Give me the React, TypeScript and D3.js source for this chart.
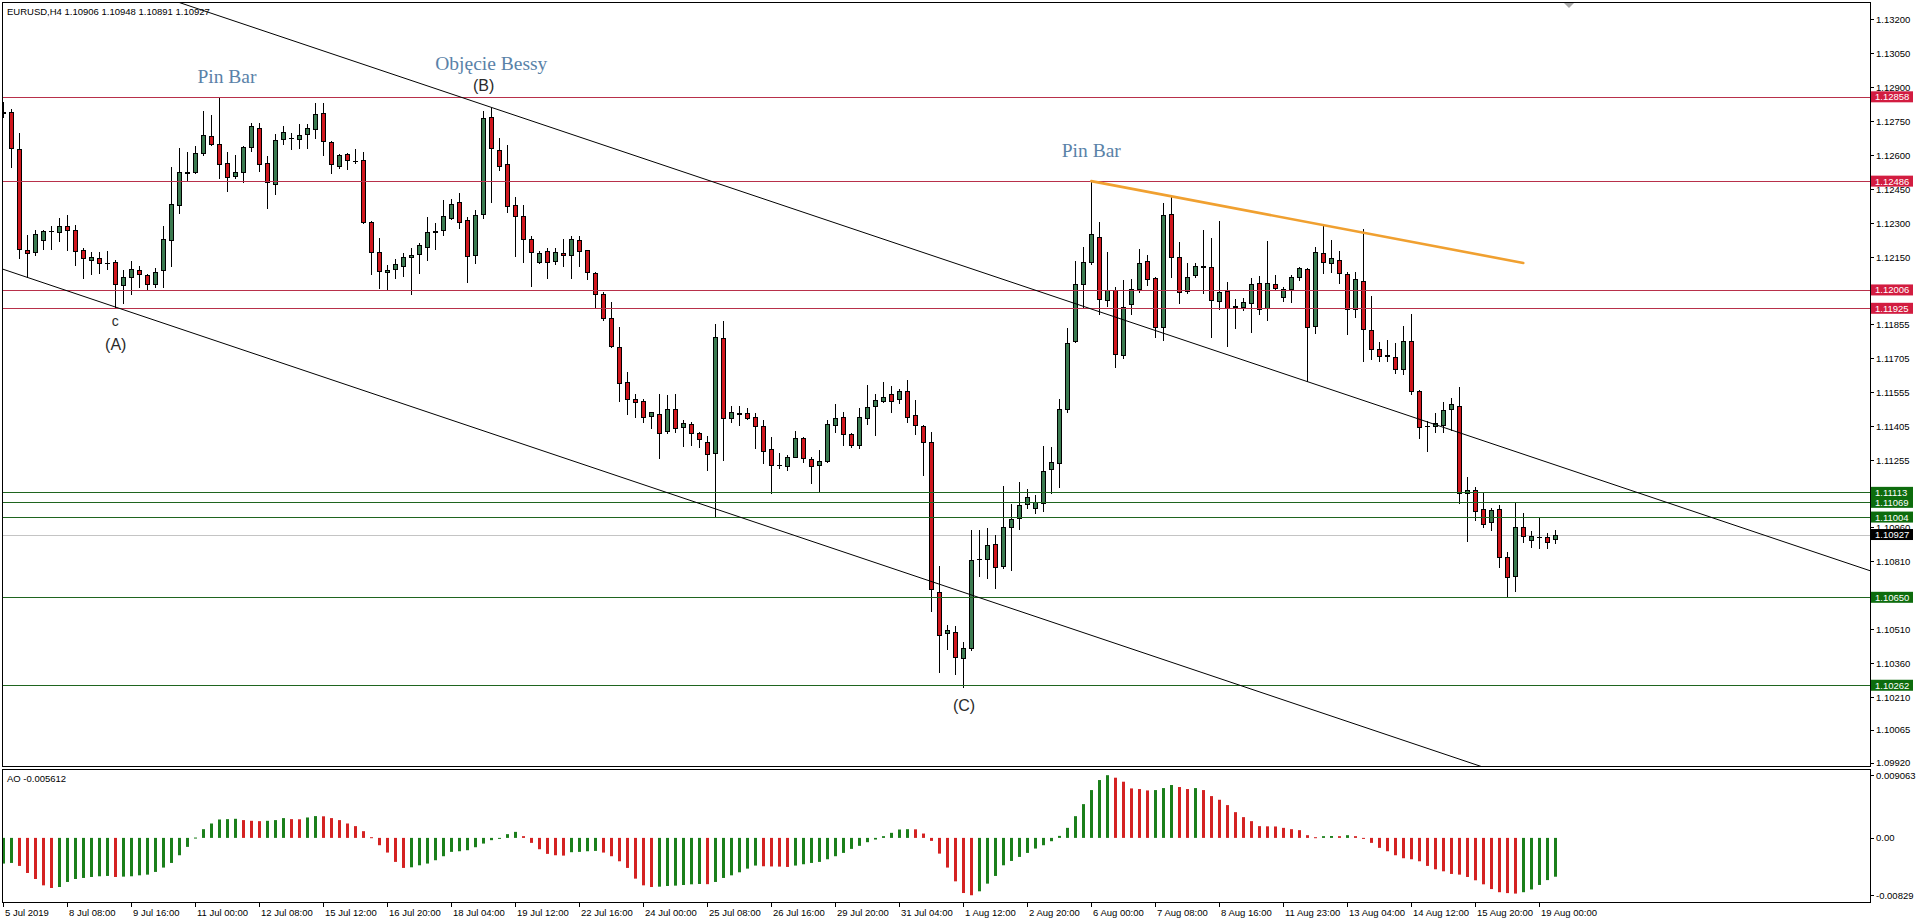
import React from 'react';
import * as d3 from 'd3';

// EURUSD H4 chart with Awesome Oscillator

const W = 1916;
const H = 923;
const LEFT = 2;
const RIGHT = 1870;
const MAIN_TOP = 2;
const MAIN_BOTTOM = 766;
const AO_TOP = 769;
const AO_BOTTOM = 902;

// [open, high, low, close]
const candles: [number, number, number, number][] = [
  [1.12786, 1.12837, 1.12771, 1.12790], [1.12790, 1.12804, 1.12550, 1.12631], [1.12627, 1.12697, 1.12146, 1.12185],
  [1.12182, 1.12249, 1.12061, 1.12171], [1.12174, 1.12271, 1.12160, 1.12255], [1.12225, 1.12271, 1.12187, 1.12266],
  [1.12266, 1.12288, 1.12187, 1.12268], [1.12263, 1.12322, 1.12224, 1.12288], [1.12287, 1.12337, 1.12182, 1.12269],
  [1.12269, 1.12293, 1.12116, 1.12178], [1.12182, 1.12190, 1.12057, 1.12146], [1.12137, 1.12172, 1.12075, 1.12152],
  [1.12146, 1.12174, 1.12082, 1.12124], [1.12125, 1.12179, 1.12098, 1.12123], [1.12128, 1.12138, 1.11932, 1.12031],
  [1.12028, 1.12093, 1.11947, 1.12062], [1.12062, 1.12134, 1.11987, 1.12099], [1.12093, 1.12113, 1.12020, 1.12075],
  [1.12072, 1.12078, 1.12007, 1.12031], [1.12031, 1.12101, 1.12020, 1.12084], [1.12093, 1.12288, 1.12020, 1.12231],
  [1.12225, 1.12550, 1.12113, 1.12385], [1.12380, 1.12634, 1.12347, 1.12525], [1.12523, 1.12616, 1.12491, 1.12525],
  [1.12528, 1.12643, 1.12521, 1.12609], [1.12612, 1.12796, 1.12601, 1.12690], [1.12685, 1.12778, 1.12645, 1.12651],
  [1.12649, 1.12854, 1.12502, 1.12560], [1.12564, 1.12616, 1.12442, 1.12503], [1.12510, 1.12601, 1.12502, 1.12525],
  [1.12525, 1.12643, 1.12484, 1.12637], [1.12636, 1.12741, 1.12619, 1.12728], [1.12719, 1.12741, 1.12532, 1.12560],
  [1.12564, 1.12597, 1.12369, 1.12481], [1.12472, 1.12693, 1.12428, 1.12666], [1.12671, 1.12728, 1.12650, 1.12701],
  [1.12675, 1.12697, 1.12627, 1.12676], [1.12671, 1.12737, 1.12634, 1.12688], [1.12693, 1.12738, 1.12631, 1.12719],
  [1.12715, 1.12829, 1.12675, 1.12781], [1.12785, 1.12829, 1.12601, 1.12665], [1.12660, 1.12663, 1.12523, 1.12560],
  [1.12554, 1.12604, 1.12545, 1.12600], [1.12604, 1.12609, 1.12540, 1.12578], [1.12576, 1.12628, 1.12565, 1.12574],
  [1.12578, 1.12613, 1.12300, 1.12307], [1.12307, 1.12310, 1.12078, 1.12175], [1.12172, 1.12234, 1.12016, 1.12091],
  [1.12084, 1.12115, 1.12007, 1.12093], [1.12099, 1.12143, 1.12057, 1.12119], [1.12113, 1.12168, 1.12069, 1.12150],
  [1.12150, 1.12190, 1.11987, 1.12159], [1.12163, 1.12212, 1.12082, 1.12203], [1.12194, 1.12326, 1.12140, 1.12262],
  [1.12262, 1.12300, 1.12185, 1.12266], [1.12271, 1.12401, 1.12247, 1.12331], [1.12325, 1.12407, 1.12318, 1.12385],
  [1.12393, 1.12432, 1.12278, 1.12307], [1.12313, 1.12328, 1.12042, 1.12154], [1.12159, 1.12360, 1.12126, 1.12335],
  [1.12340, 1.12795, 1.12322, 1.12763], [1.12768, 1.12807, 1.12393, 1.12631], [1.12622, 1.12675, 1.12535, 1.12554],
  [1.12560, 1.12645, 1.12348, 1.12375], [1.12381, 1.12416, 1.12157, 1.12334], [1.12331, 1.12381, 1.12130, 1.12231],
  [1.12229, 1.12244, 1.12024, 1.12172], [1.12131, 1.12179, 1.12124, 1.12169], [1.12178, 1.12190, 1.12060, 1.12131],
  [1.12133, 1.12190, 1.12122, 1.12172], [1.12168, 1.12229, 1.12110, 1.12159], [1.12159, 1.12244, 1.12060, 1.12229],
  [1.12225, 1.12244, 1.12111, 1.12176], [1.12181, 1.12181, 1.12053, 1.12084], [1.12082, 1.12086, 1.11928, 1.11987],
  [1.11987, 1.11998, 1.11873, 1.11881], [1.11884, 1.11951, 1.11753, 1.11760], [1.11756, 1.11841, 1.11516, 1.11594],
  [1.11598, 1.11643, 1.11459, 1.11523], [1.11523, 1.11547, 1.11447, 1.11510], [1.11516, 1.11525, 1.11425, 1.11447],
  [1.11451, 1.11469, 1.11398, 1.11466], [1.11458, 1.11547, 1.11263, 1.11375], [1.11382, 1.11542, 1.11375, 1.11481],
  [1.11481, 1.11549, 1.11378, 1.11396], [1.11400, 1.11432, 1.11317, 1.11418], [1.11413, 1.11425, 1.11322, 1.11375],
  [1.11375, 1.11381, 1.11315, 1.11349], [1.11337, 1.11363, 1.11212, 1.11282], [1.11287, 1.11855, 1.11010, 1.11800],
  [1.11795, 1.11869, 1.11256, 1.11440], [1.11442, 1.11495, 1.11422, 1.11466], [1.11462, 1.11495, 1.11410, 1.11460],
  [1.11462, 1.11484, 1.11435, 1.11442], [1.11447, 1.11462, 1.11307, 1.11407], [1.11407, 1.11432, 1.11241, 1.11297],
  [1.11303, 1.11358, 1.11109, 1.11234], [1.11234, 1.11286, 1.11219, 1.11232], [1.11229, 1.11278, 1.11212, 1.11271],
  [1.11271, 1.11385, 1.11267, 1.11351], [1.11355, 1.11358, 1.11249, 1.11263], [1.11259, 1.11271, 1.11155, 1.11229],
  [1.11232, 1.11300, 1.11113, 1.11252], [1.11250, 1.11432, 1.11249, 1.11413], [1.11409, 1.11502, 1.11381, 1.11442],
  [1.11447, 1.11469, 1.11322, 1.11369], [1.11369, 1.11373, 1.11315, 1.11320], [1.11324, 1.11484, 1.11307, 1.11444],
  [1.11442, 1.11586, 1.11414, 1.11488], [1.11494, 1.11547, 1.11366, 1.11520], [1.11517, 1.11599, 1.11512, 1.11535],
  [1.11545, 1.11582, 1.11469, 1.11517], [1.11523, 1.11567, 1.11506, 1.11561], [1.11559, 1.11608, 1.11422, 1.11447],
  [1.11453, 1.11520, 1.11370, 1.11410], [1.11405, 1.11410, 1.11190, 1.11336], [1.11336, 1.11378, 1.10591, 1.10685],
  [1.10675, 1.10788, 1.10320, 1.10484], [1.10491, 1.10528, 1.10421, 1.10506], [1.10498, 1.10524, 1.10311, 1.10385],
  [1.10381, 1.10454, 1.10255, 1.10425], [1.10425, 1.10947, 1.10418, 1.10815], [1.10821, 1.10946, 1.10742, 1.10819],
  [1.10817, 1.10954, 1.10734, 1.10879], [1.10884, 1.10925, 1.10690, 1.10782], [1.10788, 1.11141, 1.10778, 1.10962],
  [1.10962, 1.11060, 1.10771, 1.10994], [1.11000, 1.11157, 1.10950, 1.11057], [1.11060, 1.11126, 1.11045, 1.11091],
  [1.11043, 1.11102, 1.11024, 1.11069], [1.11067, 1.11318, 1.11032, 1.11209], [1.11215, 1.11312, 1.11109, 1.11246],
  [1.11241, 1.11527, 1.11138, 1.11480], [1.11479, 1.11838, 1.11469, 1.11774], [1.11780, 1.12134, 1.11778, 1.12032],
  [1.12031, 1.12197, 1.11932, 1.12128], [1.12131, 1.12486, 1.12120, 1.12251], [1.12241, 1.12304, 1.11900, 1.11966],
  [1.11961, 1.12175, 1.11935, 1.12006], [1.12006, 1.12018, 1.11665, 1.11722], [1.11719, 1.12050, 1.11704, 1.11932],
  [1.11942, 1.12053, 1.11900, 1.12009], [1.12009, 1.12185, 1.11998, 1.12124], [1.12134, 1.12160, 1.12028, 1.12053],
  [1.12057, 1.12062, 1.11800, 1.11844], [1.11844, 1.12391, 1.11785, 1.12337], [1.12340, 1.12415, 1.12064, 1.12153],
  [1.12150, 1.12219, 1.11947, 1.11999], [1.12003, 1.12123, 1.11994, 1.12064], [1.12072, 1.12123, 1.12063, 1.12113],
  [1.12110, 1.12271, 1.11994, 1.12108], [1.12108, 1.12234, 1.11800, 1.11961], [1.11957, 1.12310, 1.11921, 1.11996],
  [1.12000, 1.12040, 1.11760, 1.11928], [1.11934, 1.11965, 1.11840, 1.11932], [1.11929, 1.11972, 1.11917, 1.11954],
  [1.11947, 1.12060, 1.11822, 1.12031], [1.12035, 1.12069, 1.11900, 1.11921], [1.11926, 1.12223, 1.11873, 1.12035],
  [1.12031, 1.12071, 1.12009, 1.12013], [1.11974, 1.12020, 1.11959, 1.12009], [1.12009, 1.12071, 1.11954, 1.12064],
  [1.12062, 1.12108, 1.12050, 1.12101], [1.12097, 1.12103, 1.11606, 1.11841], [1.11847, 1.12194, 1.11818, 1.12172],
  [1.12168, 1.12297, 1.12082, 1.12131], [1.12126, 1.12227, 1.12086, 1.12146], [1.12137, 1.12179, 1.12035, 1.12079],
  [1.12075, 1.12086, 1.11810, 1.11921], [1.11921, 1.12084, 1.11888, 1.12053], [1.12046, 1.12274, 1.11694, 1.11832],
  [1.11828, 1.11979, 1.11703, 1.11744], [1.11744, 1.11775, 1.11694, 1.11716], [1.11718, 1.11784, 1.11694, 1.11716],
  [1.11709, 1.11773, 1.11641, 1.11656], [1.11657, 1.11848, 1.11635, 1.11779], [1.11779, 1.11900, 1.11547, 1.11561],
  [1.11559, 1.11565, 1.11351, 1.11403], [1.11406, 1.11429, 1.11297, 1.11404], [1.11406, 1.11462, 1.11381, 1.11418],
  [1.11410, 1.11510, 1.11381, 1.11476], [1.11480, 1.11528, 1.11388, 1.11502], [1.11494, 1.11576, 1.11065, 1.11111],
  [1.11109, 1.11179, 1.10900, 1.11124], [1.11124, 1.11135, 1.10991, 1.11032], [1.11038, 1.11109, 1.10959, 1.10973],
  [1.10981, 1.11043, 1.10947, 1.11035], [1.11038, 1.11057, 1.10785, 1.10829], [1.10829, 1.10851, 1.10653, 1.10741],
  [1.10745, 1.11065, 1.10680, 1.10962], [1.10959, 1.11020, 1.10892, 1.10920], [1.10903, 1.10942, 1.10871, 1.10920],
  [1.10918, 1.11002, 1.10866, 1.10916], [1.10914, 1.10932, 1.10866, 1.10895], [1.10906, 1.10948, 1.10891, 1.10927],
];

// Awesome Oscillator, one value per candle
const aoValues: number[] = [
  -0.00371, -0.00362, -0.00405, -0.00507, -0.00594, -0.00686, -0.00724, -0.00710, -0.00637, -0.00594,
  -0.00579, -0.00565, -0.00555, -0.00550, -0.00565, -0.00560, -0.00555, -0.00541, -0.00531, -0.00492,
  -0.00429, -0.00362, -0.00251, -0.00130, 0.00005, 0.00126, 0.00208, 0.00266, 0.00271, 0.00276,
  0.00257, 0.00247, 0.00242, 0.00247, 0.00257, 0.00286, 0.00271, 0.00269, 0.00295, 0.00315,
  0.00312, 0.00286, 0.00257, 0.00208, 0.00170, 0.00097, 0.00010, -0.00106, -0.00212, -0.00347,
  -0.00434, -0.00425, -0.00396, -0.00371, -0.00323, -0.00265, -0.00202, -0.00193, -0.00178, -0.00135,
  -0.00082, -0.00033, -0.00014, 0.00054, 0.00087, 0.00025, -0.00072, -0.00164, -0.00231, -0.00251,
  -0.00256, -0.00207, -0.00202, -0.00193, -0.00188, -0.00212, -0.00265, -0.00338, -0.00434, -0.00589,
  -0.00686, -0.00710, -0.00705, -0.00695, -0.00690, -0.00681, -0.00671, -0.00666, -0.00669, -0.00637,
  -0.00579, -0.00541, -0.00497, -0.00444, -0.00400, -0.00410, -0.00413, -0.00415, -0.00420, -0.00400,
  -0.00381, -0.00362, -0.00347, -0.00309, -0.00265, -0.00217, -0.00159, -0.00115, -0.00062, -0.00024,
  0.00025, 0.00073, 0.00121, 0.00126, 0.00124, 0.00063, -0.00043, -0.00227, -0.00429, -0.00628,
  -0.00797, -0.00829, -0.00772, -0.00661, -0.00550, -0.00396, -0.00333, -0.00275, -0.00217, -0.00154,
  -0.00106, -0.00048, 0.00029, 0.00145, 0.00314, 0.00488, 0.00691, 0.00836, 0.009063, 0.00870,
  0.00812, 0.00715, 0.00706, 0.00686, 0.00691, 0.00720, 0.00764, 0.00735, 0.00706, 0.00720,
  0.00691, 0.00604, 0.00551, 0.00474, 0.00372, 0.00300, 0.00242, 0.00170, 0.00167, 0.00165,
  0.00145, 0.00126, 0.00112, 0.00039, 0.00010, 0.00025, 0.00027, 0.00025, 0.00039, 0.00025,
  -0.00009, -0.00072, -0.00144, -0.00193, -0.00251, -0.00294, -0.00309, -0.00338, -0.00405, -0.00454,
  -0.00483, -0.00521, -0.00531, -0.00565, -0.00613, -0.00671, -0.00740, -0.00785, -0.00798, -0.00805,
  -0.00785, -0.00745, -0.00680, -0.00610, -0.005612,
];

const timeLabels: [number, string][] = [
  [0, '5 Jul 2019'], [8, '8 Jul 08:00'], [16, '9 Jul 16:00'], [24, '11 Jul 00:00'], [32, '12 Jul 08:00'],
  [40, '15 Jul 12:00'], [48, '16 Jul 20:00'], [56, '18 Jul 04:00'], [64, '19 Jul 12:00'], [72, '22 Jul 16:00'],
  [80, '24 Jul 00:00'], [88, '25 Jul 08:00'], [96, '26 Jul 16:00'], [104, '29 Jul 20:00'], [112, '31 Jul 04:00'],
  [120, '1 Aug 12:00'], [128, '2 Aug 20:00'], [136, '6 Aug 00:00'], [144, '7 Aug 08:00'], [152, '8 Aug 16:00'],
  [160, '11 Aug 23:00'], [168, '13 Aug 04:00'], [176, '14 Aug 12:00'], [184, '15 Aug 20:00'], [192, '19 Aug 00:00'],
];

const priceTicks = [
  1.13200, 1.13050, 1.12900, 1.12750, 1.12600, 1.12450, 1.12300, 1.12150, 1.12005, 1.11855, 1.11705, 1.11555,
  1.11405, 1.11255, 1.11105, 1.10960, 1.10810, 1.10660, 1.10510, 1.10360, 1.10210, 1.10065, 1.09920,
];

const resistanceLevels = [1.12858, 1.12486, 1.12006, 1.11925];
const supportLevels = [1.11113, 1.11069, 1.11004, 1.10650, 1.10262];
const bidPrice = 1.10927;

// channel lines as two anchor points [bar, price, bar, price], extended as rays
const channelLines: [number, number, number, number][] = [
  [0, 1.13535, 180, 1.11400],
  [0, 1.12097, 180, 1.09960],
];
const orangeLine: [number, number, number, number] = [136, 1.12486, 190, 1.12125];

const aoTicks: [number, string][] = [[0.009063, '0.009063'], [0, '0.00'], [-0.00829, '-0.00829']];

// [bar, price (baseline), text, kind]
const annotations: [number, number, string, string][] = [
  [27.96, 1.12918, 'Pin Bar', 'blue'],
  [61.0, 1.12975, 'Objęcie Bessy', 'blue'],
  [60.05, 1.12884, '(B)', 'wave'],
  [14.0, 1.11849, 'c', 'small'],
  [14.06, 1.11742, '(A)', 'wave'],
  [120.1, 1.10150, '(C)', 'wave'],
  [136.0, 1.12591, 'Pin Bar', 'blue'],
];

const header = 'EURUSD,H4  1.10906 1.10948 1.10891 1.10927';
const aoHeader = 'AO -0.005612';

const AXIS_FONT = "'Liberation Sans', Arial, sans-serif";
const BULL = '#3b7a50';
const BEAR = '#d0161d';
const AO_UP = '#1b7f1b';
const AO_DOWN = '#d42222';
const RES_LINE = '#b8304a';
const RES_BOX = '#d21c40';
const SUP_LINE = '#1f651f';
const SUP_BOX = '#0d6c0d';

const App: React.FC = () => {
  const x = d3.scaleLinear().domain([0, 194]).range([3.3, 1555.3]);
  const y = d3.scaleLinear().domain([1.099058, 1.132763]).range([MAIN_BOTTOM, MAIN_TOP]);
  const yAo = d3.scaleLinear().domain([-0.0085, 0.00909]).range([896.7, 775]);
  const lastIndex = x.invert(RIGHT);

  const px = (i: number) => Math.round(x(i));
  const crisp = (v: number) => Math.round(v) + 0.5;

  const rayPath = (l: [number, number, number, number]) => {
    const [i1, p1, i2, p2] = l;
    const slope = (p2 - p1) / (i2 - i1);
    const a = -2;
    const b = lastIndex;
    return d3.line()([
      [x(a), y(p1 + slope * (a - i1))],
      [x(b), y(p1 + slope * (b - i1))],
    ]) as string;
  };

  const levelBox = (p: number, fill: string, key: string) => (
    <g key={key}>
      <rect x={RIGHT + 1} y={y(p) - 5.5} width={42} height={11} fill={fill} />
      <text x={RIGHT + 5} y={y(p) + 3.5} fontSize={9.5} fill="#fff" fontFamily={AXIS_FONT}>
        {p.toFixed(5)}
      </text>
    </g>
  );

  return (
    <svg
      width={W}
      height={H}
      style={{ position: 'absolute', left: 0, top: 0, background: '#fff' }}
      fontFamily={AXIS_FONT}
    >
      <defs>
        <clipPath id="mainClip">
          <rect x={LEFT} y={MAIN_TOP} width={RIGHT - LEFT} height={MAIN_BOTTOM - MAIN_TOP} />
        </clipPath>
        <clipPath id="aoClip">
          <rect x={LEFT} y={AO_TOP} width={RIGHT - LEFT} height={AO_BOTTOM - AO_TOP} />
        </clipPath>
      </defs>
      <rect x={0} y={0} width={W} height={H} fill="#fff" />

      {/* main panel */}
      <g clipPath="url(#mainClip)">
        <line x1={LEFT} x2={RIGHT} y1={crisp(y(bidPrice))} y2={crisp(y(bidPrice))} stroke="#c4c4c4" />
        {candles.map(([o, h, l, c], i) => {
          const cx = px(i);
          const top = Math.round(y(Math.max(o, c)));
          const bot = Math.round(y(Math.min(o, c)));
          const up = c >= o;
          return (
            <g key={i}>
              <line x1={cx + 0.5} x2={cx + 0.5} y1={Math.round(y(h))} y2={Math.round(y(l)) + 1} stroke="#000" />
              {bot - top < 1 ? (
                <line x1={cx - 2} x2={cx + 3} y1={top + 0.5} y2={top + 0.5} stroke="#000" />
              ) : (
                <rect
                  x={cx - 1.5}
                  y={top + 0.5}
                  width={4}
                  height={bot - top}
                  fill={up ? BULL : BEAR}
                  stroke="#000"
                  strokeWidth={1}
                />
              )}
            </g>
          );
        })}
        {resistanceLevels.map((p) => (
          <line key={'r' + p} x1={LEFT} x2={RIGHT} y1={crisp(y(p))} y2={crisp(y(p))} stroke={RES_LINE} />
        ))}
        {supportLevels.map((p) => (
          <line key={'s' + p} x1={LEFT} x2={RIGHT} y1={crisp(y(p))} y2={crisp(y(p))} stroke={SUP_LINE} />
        ))}
        {channelLines.map((l, k) => (
          <path key={'ch' + k} d={rayPath(l)} stroke="#000" strokeWidth={1} fill="none" />
        ))}
        <line
          x1={x(orangeLine[0])}
          y1={y(orangeLine[1])}
          x2={x(orangeLine[2])}
          y2={y(orangeLine[3])}
          stroke="#f0a030"
          strokeWidth={2.6}
          strokeLinecap="round"
        />
        {annotations.map(([i, p, t, kind], k) => (
          <text
            key={'an' + k}
            x={x(i)}
            y={y(p)}
            textAnchor="middle"
            fontFamily={kind === 'blue' ? "'Liberation Serif', 'DejaVu Serif', serif" : AXIS_FONT}
            fontSize={kind === 'blue' ? 19.5 : kind === 'small' ? 14 : 16}
            fill={kind === 'blue' ? '#5a82a8' : '#2a2a2a'}
          >
            {t}
          </text>
        ))}
        <text x={7} y={14.5} fontSize={9.5} fill="#000">
          {header}
        </text>
        <polygon points="1564,3 1574,3 1569,8" fill="#a8a8a8" />
      </g>

      {/* AO panel */}
      <g clipPath="url(#aoClip)">
        {aoValues.map((v, i) => {
          const up = i === 0 ? true : v > aoValues[i - 1];
          const y0 = yAo(0);
          const y1 = yAo(v);
          return (
            <rect
              key={'ao' + i}
              x={px(i) - 1}
              y={Math.min(y0, y1)}
              width={3}
              height={Math.max(1, Math.abs(y1 - y0))}
              fill={up ? AO_UP : AO_DOWN}
            />
          );
        })}
        <text x={7} y={782} fontSize={9.5} fill="#000">
          {aoHeader}
        </text>
      </g>

      {/* frames */}
      <rect x={LEFT + 0.5} y={MAIN_TOP + 0.5} width={RIGHT - LEFT} height={MAIN_BOTTOM - MAIN_TOP} fill="none" stroke="#000" />
      <rect x={LEFT + 0.5} y={AO_TOP + 0.5} width={RIGHT - LEFT} height={AO_BOTTOM - AO_TOP} fill="none" stroke="#000" />

      {/* price axis */}
      {priceTicks.map((p) => (
        <g key={'pt' + p}>
          <line x1={RIGHT} x2={RIGHT + 4} y1={crisp(y(p))} y2={crisp(y(p))} stroke="#000" />
          <text x={RIGHT + 6} y={y(p) + 3.5} fontSize={9.5} fill="#000">
            {p.toFixed(5)}
          </text>
        </g>
      ))}
      {resistanceLevels.map((p) => levelBox(p, RES_BOX, 'rb' + p))}
      {supportLevels.map((p) => levelBox(p, SUP_BOX, 'sb' + p))}
      {levelBox(bidPrice, '#000', 'bid')}

      {/* AO axis */}
      {aoTicks.map(([v, t]) => (
        <g key={'at' + t}>
          <line x1={RIGHT} x2={RIGHT + 4} y1={crisp(yAo(v))} y2={crisp(yAo(v))} stroke="#000" />
          <text x={RIGHT + 6} y={yAo(v) + 3.5} fontSize={9.5} fill="#000">
            {t}
          </text>
        </g>
      ))}

      {/* time axis */}
      {timeLabels.map(([i, t]) => (
        <g key={'tl' + i}>
          <line x1={px(i) + 0.5} x2={px(i) + 0.5} y1={AO_BOTTOM} y2={AO_BOTTOM + 5} stroke="#000" />
          <text x={Math.max(3, px(i) + 2)} y={915.5} fontSize={9.5} fill="#000">
            {t}
          </text>
        </g>
      ))}
    </svg>
  );
};

export default App;
